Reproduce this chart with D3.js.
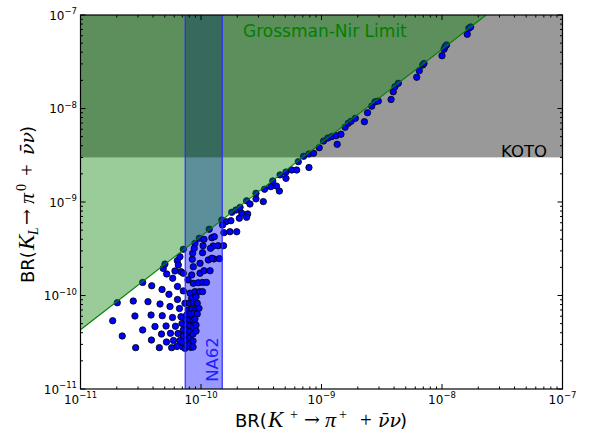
<!DOCTYPE html>
<html><head><meta charset="utf-8">
<script src="https://cdn.jsdelivr.net/npm/d3@7"></script>
<style>body{margin:0;background:#fff}svg{display:block}</style>
</head><body><svg id="c" width="589" height="434"></svg>
<script>
// ---- data ----
const brKplus = [
 2.02e-11,1.85e-11,2.22e-11,2.87e-11,2.74e-11,2.83e-11,3.28e-11,3.88e-11,4.51e-11,3.28e-11,
 3.90e-11,3.63e-11,3.85e-11,4.15e-11,4.70e-11,5.17e-11,5.71e-11,4.75e-11,4.57e-11,4.77e-11,
 5.13e-11,5.58e-11,5.91e-11,6.32e-11,5.19e-11,5.42e-11,5.53e-11,5.80e-11,6.14e-11,6.44e-11,
 6.69e-11,7.02e-11,4.86e-11,6.38e-11,6.38e-11,6.63e-11,6.82e-11,6.95e-11,7.13e-11,7.16e-11,
 7.02e-11,5.82e-11,6.36e-11,6.48e-11,6.82e-11,7.13e-11,7.13e-11,7.36e-11,7.36e-11,6.08e-11,
 7.80e-11,8.11e-11,8.37e-11,8.00e-11,7.85e-11,7.60e-11,7.59e-11,7.59e-11,7.59e-11,7.59e-11,
 7.59e-11,7.66e-11,8.22e-11,8.11e-11,8.11e-11,8.11e-11,8.11e-11,8.11e-11,8.59e-11,8.59e-11,
 8.59e-11,8.59e-11,8.59e-11,8.91e-11,9.10e-11,8.63e-11,9.31e-11,8.37e-11,9.10e-11,9.62e-11,
 8.22e-11,8.79e-11,9.31e-11,9.68e-11,1.03e-10,8.63e-11,9.51e-11,1.03e-10,1.11e-10,8.37e-11,
 9.82e-11,8.63e-11,1.06e-10,1.19e-10,8.47e-11,1.15e-10,1.28e-10,1.42e-10,1.03e-10,1.26e-10,
 1.39e-10,1.54e-10,8.91e-11,9.10e-11,9.10e-11,
 7.13e-11,8.53e-11,1.23e-10,6.69e-11,5.02e-11,9.82e-11,8.91e-11,8.79e-11,1.04e-10,1.20e-10,
 9.68e-11,1.06e-10,1.23e-10,1.29e-10,1.17e-10,1.49e-10,1.61e-10,1.77e-10,1.51e-10,1.55e-10,
 1.74e-10,1.98e-10,1.80e-10,1.95e-10,2.11e-10,2.18e-10,2.44e-10,2.08e-10,2.39e-10,2.39e-10,
 2.86e-10,3.29e-10,2.55e-10,
 2.86e-10,3.37e-10,3.79e-10,3.94e-10,4.23e-10,4.47e-10,4.53e-10,5.07e-10,5.07e-10,5.66e-10,
 6.22e-10,6.42e-10,7.10e-10,7.87e-10,7.87e-10,8.59e-10,9.57e-10,1.04e-9,1.13e-9,1.22e-9,
 1.32e-9,1.45e-9,1.35e-9,1.57e-9,1.67e-9,1.76e-9,1.91e-9,2.27e-9,2.41e-9,2.61e-9,
 2.78e-9,2.96e-9,3.78e-9,3.94e-9,4.07e-9,4.34e-9,6.17e-9,6.48e-9,6.92e-9,7.09e-9,
 1.00e-8,1.04e-8,1.06e-8,1.09e-8,1.62e-8,1.67e-8,1.73e-8
];
const brKL = [
 8.37e-11,5.37e-11,3.69e-11,2.77e-11,8.73e-11,6.04e-11,4.28e-11,3.34e-11,2.77e-11,1.38e-10,
 1.27e-10,8.59e-11,6.18e-11,4.66e-11,3.87e-11,3.18e-11,2.77e-11,1.16e-10,8.11e-11,6.08e-11,
 4.72e-11,3.94e-11,3.30e-11,2.85e-11,1.70e-10,1.03e-10,7.62e-11,5.82e-11,4.69e-11,3.92e-11,
 3.30e-11,2.83e-11,1.95e-10,1.25e-10,9.06e-11,7.26e-11,5.93e-11,5.02e-11,4.28e-11,3.69e-11,
 3.18e-11,1.53e-10,2.36e-10,2.12e-10,1.80e-10,1.73e-10,1.12e-10,8.26e-11,2.72e-11,1.83e-10,
 1.47e-10,1.06e-10,9.33e-11,8.26e-11,7.00e-11,6.18e-11,5.47e-11,4.83e-11,4.28e-11,3.78e-11,
 3.34e-11,2.96e-11,2.79e-11,5.47e-11,4.72e-11,4.07e-11,3.51e-11,3.10e-11,5.47e-11,4.60e-11,
 3.87e-11,3.26e-11,2.81e-11,1.10e-10,9.70e-11,8.37e-11,8.26e-11,7.11e-11,7.11e-11,7.29e-11,
 6.34e-11,6.45e-11,6.34e-11,1.10e-10,1.10e-10,1.35e-10,1.37e-10,1.38e-10,1.38e-10,1.66e-10,
 1.73e-10,2.03e-10,1.84e-10,1.84e-10,2.44e-10,2.40e-10,2.46e-10,2.48e-10,2.87e-10,3.38e-10,
 3.41e-10,3.41e-10,5.61e-11,4.83e-11,4.17e-11,
 3.12e-10,2.83e-10,2.50e-10,2.60e-10,2.17e-10,2.21e-10,3.61e-10,3.20e-10,3.41e-10,3.20e-10,
 4.09e-10,3.99e-10,4.15e-10,4.26e-10,5.11e-10,6.42e-10,6.15e-10,6.31e-10,5.68e-10,4.70e-10,
 4.81e-10,4.81e-10,7.76e-10,8.21e-10,8.77e-10,7.57e-10,7.45e-10,6.70e-10,6.86e-10,1.03e-9,
 1.08e-9,1.01e-9,9.52e-10,
 1.24e-9,1.37e-9,1.46e-9,1.68e-9,1.48e-9,1.31e-9,1.95e-9,2.09e-9,1.79e-9,2.20e-9,
 2.20e-9,2.70e-9,3.08e-9,3.26e-9,2.34e-9,3.32e-9,3.81e-9,4.49e-9,4.83e-9,5.02e-9,
 5.12e-9,5.30e-9,4.14e-9,6.30e-9,6.95e-9,7.30e-9,7.85e-9,7.23e-9,9.02e-9,1.06e-8,
 1.18e-8,1.20e-8,1.25e-8,1.51e-8,1.71e-8,1.86e-8,2.16e-8,2.54e-8,2.92e-8,3.03e-8,
 3.67e-8,4.30e-8,4.58e-8,4.78e-8,6.22e-8,7.21e-8,7.45e-8
];
const decadeTicks = [1e-11, 1e-10, 1e-9, 1e-8, 1e-7];
const tickExponents = ["\u221211", "\u221210", "\u22129", "\u22128", "\u22127"];
const axisDomain = [1e-11, 1e-7];
const na62Range = [7.4e-11, 1.5e-10];
const kotoLimit = 3.0e-9;
const gnFactor = 4.3;

// ---- drawing ----
const svg = d3.select("#c");
const L = 80.5, R = 562.5, T = 15, B = 389;
const x = d3.scaleLog().domain(axisDomain).range([L, R]);
const y = d3.scaleLog().domain(axisDomain).range([B, T]);
const sans = "'DejaVu Sans', sans-serif";
const serif = "'Liberation Serif', 'DejaVu Serif', serif";
const greek = "'DejaVu Serif', 'Liberation Serif', serif";

svg.append("defs").append("clipPath").attr("id", "clip")
  .append("rect").attr("x", L).attr("y", T).attr("width", R - L).attr("height", B - T);
const plot = svg.append("g").attr("clip-path", "url(#clip)");

// NA62 band
plot.append("rect")
  .attr("x", x(na62Range[0])).attr("y", T)
  .attr("width", x(na62Range[1]) - x(na62Range[0])).attr("height", B - T)
  .attr("fill", "blue").attr("fill-opacity", 0.4);

// KOTO excluded region
plot.append("rect")
  .attr("x", L).attr("y", y(axisDomain[1]))
  .attr("width", R - L).attr("height", y(kotoLimit) - y(axisDomain[1]))
  .attr("fill", "black").attr("fill-opacity", 0.4);

// scatter points
const pts = brKplus.map((v, i) => [v, brKL[i]]);
plot.append("g").selectAll("circle").data(pts).join("circle")
  .attr("cx", d => x(d[0])).attr("cy", d => y(d[1])).attr("r", 3.2)
  .attr("fill", "#0000ff").attr("stroke", "#000").attr("stroke-width", 0.8);

// Grossman-Nir excluded region
const gnTopX = axisDomain[1] / gnFactor;
const gnPoly = [[axisDomain[0], axisDomain[0] * gnFactor], [gnTopX, axisDomain[1]], [axisDomain[0], axisDomain[1]]];
plot.append("path")
  .attr("d", d3.line().x(d => x(d[0])).y(d => y(d[1]))(gnPoly) + "Z")
  .attr("fill", "green").attr("fill-opacity", 0.4);
plot.append("line")
  .attr("x1", x(axisDomain[0])).attr("y1", y(axisDomain[0] * gnFactor))
  .attr("x2", x(gnTopX)).attr("y2", y(axisDomain[1]))
  .attr("stroke", "green").attr("stroke-width", 1.1);

// NA62 band edges
na62Range.forEach(v => plot.append("line")
  .attr("x1", x(v)).attr("x2", x(v)).attr("y1", T).attr("y2", B)
  .attr("stroke", "#2a2aff").attr("stroke-width", 1.2));

// frame
svg.append("rect").attr("x", L).attr("y", T).attr("width", R - L).attr("height", B - T)
  .attr("fill", "none").attr("stroke", "#000").attr("stroke-width", 1.2);

// ticks (inward, all four sides)
const allTicks = x.ticks();
const isMajor = v => Math.abs(Math.log10(v) - Math.round(Math.log10(v))) < 1e-6;
const tk = svg.append("g").attr("stroke", "#000").attr("stroke-width", 1);
allTicks.forEach(v => {
  const len = isMajor(v) ? 5 : 2.5;
  const xp = x(v), yp = y(v);
  tk.append("line").attr("x1", xp).attr("x2", xp).attr("y1", B).attr("y2", B - len);
  tk.append("line").attr("x1", xp).attr("x2", xp).attr("y1", T).attr("y2", T + len);
  tk.append("line").attr("y1", yp).attr("y2", yp).attr("x1", L).attr("x2", L + len);
  tk.append("line").attr("y1", yp).attr("y2", yp).attr("x1", R).attr("x2", R - len);
});

// tick labels
decadeTicks.forEach((v, i) => {
  const tx = svg.append("text").attr("x", x(v)).attr("y", 403.5)
    .attr("text-anchor", "middle").attr("font-family", sans).attr("font-size", 12).attr("fill", "#000");
  tx.append("tspan").text("10");
  tx.append("tspan").attr("dy", -5.5).attr("font-size", 8.5).text(tickExponents[i]);
  const ty = svg.append("text").attr("x", 77).attr("y", y(v) + 4.5)
    .attr("text-anchor", "end").attr("font-family", sans).attr("font-size", 12).attr("fill", "#000");
  ty.append("tspan").text("10");
  ty.append("tspan").attr("dy", -5.5).attr("font-size", 8.5).text(tickExponents[i]);
});

// annotations
svg.append("text").attr("x", 243).attr("y", 36.5).attr("font-family", sans).attr("font-size", 17)
  .attr("fill", "#008000").text("Grossman-Nir Limit");
svg.append("text").attr("x", 524).attr("y", 156.5).attr("text-anchor", "middle")
  .attr("font-family", sans).attr("font-size", 16.5).attr("fill", "#000").text("KOTO");
svg.append("text").attr("x", 217.5).attr("y", 359.5).attr("text-anchor", "middle")
  .attr("transform", "rotate(-90,217.5,359.5)")
  .attr("font-family", sans).attr("font-size", 16.5).attr("fill", "#2020ff").text("NA62");

// axis titles (mathtext-like, each piece placed along the baseline)
function title(sel, parts) {
  let base = 0;
  parts.forEach(p => {
    const fam = p.g ? greek : (p.m ? serif : sans);
    const t = sel.append("tspan").text(p.t).attr("x", p.x)
      .attr("font-family", fam)
      .attr("font-style", p.i ? "italic" : "normal")
      .attr("font-size", p.s || 18);
    const shift = p.sh || 0;
    t.attr("dy", shift - base);
    base = shift;
  });
}
const xt = svg.append("text").attr("y", 427).attr("fill", "#000");
title(xt, [
  {t: "BR(", x: 235},
  {t: "K", x: 268, m: 1, i: 1, s: 23},
  {t: "+", x: 290, m: 1, s: 14, sh: -8},
  {t: "\u2192", x: 304, g: 1, s: 19, sh: -1},
  {t: "\u03C0", x: 325, m: 1, i: 1, s: 22},
  {t: "+", x: 339, m: 1, s: 14, sh: -8},
  {t: "+", x: 360, m: 1, s: 21},
  {t: "\u03BD\u0304\u03BD", x: 378, g: 1, i: 1, s: 19},
  {t: ")", x: 400}
]);
const yg = svg.append("g").attr("transform", "translate(34,283) rotate(-90)");
const yt = yg.append("text").attr("y", 0).attr("fill", "#000");
title(yt, [
  {t: "BR(", x: 0},
  {t: "K", x: 33, m: 1, i: 1, s: 23},
  {t: "L", x: 48, m: 1, i: 1, s: 14, sh: 4},
  {t: "\u2192", x: 58, g: 1, s: 19, sh: -1},
  {t: "\u03C0", x: 79, m: 1, i: 1, s: 22},
  {t: "0", x: 92, m: 1, s: 14, sh: -8},
  {t: "+", x: 107, m: 1, s: 21},
  {t: "\u03BD\u0304\u03BD", x: 128, g: 1, i: 1, s: 19},
  {t: ")", x: 150}
]);
</script></body></html>
